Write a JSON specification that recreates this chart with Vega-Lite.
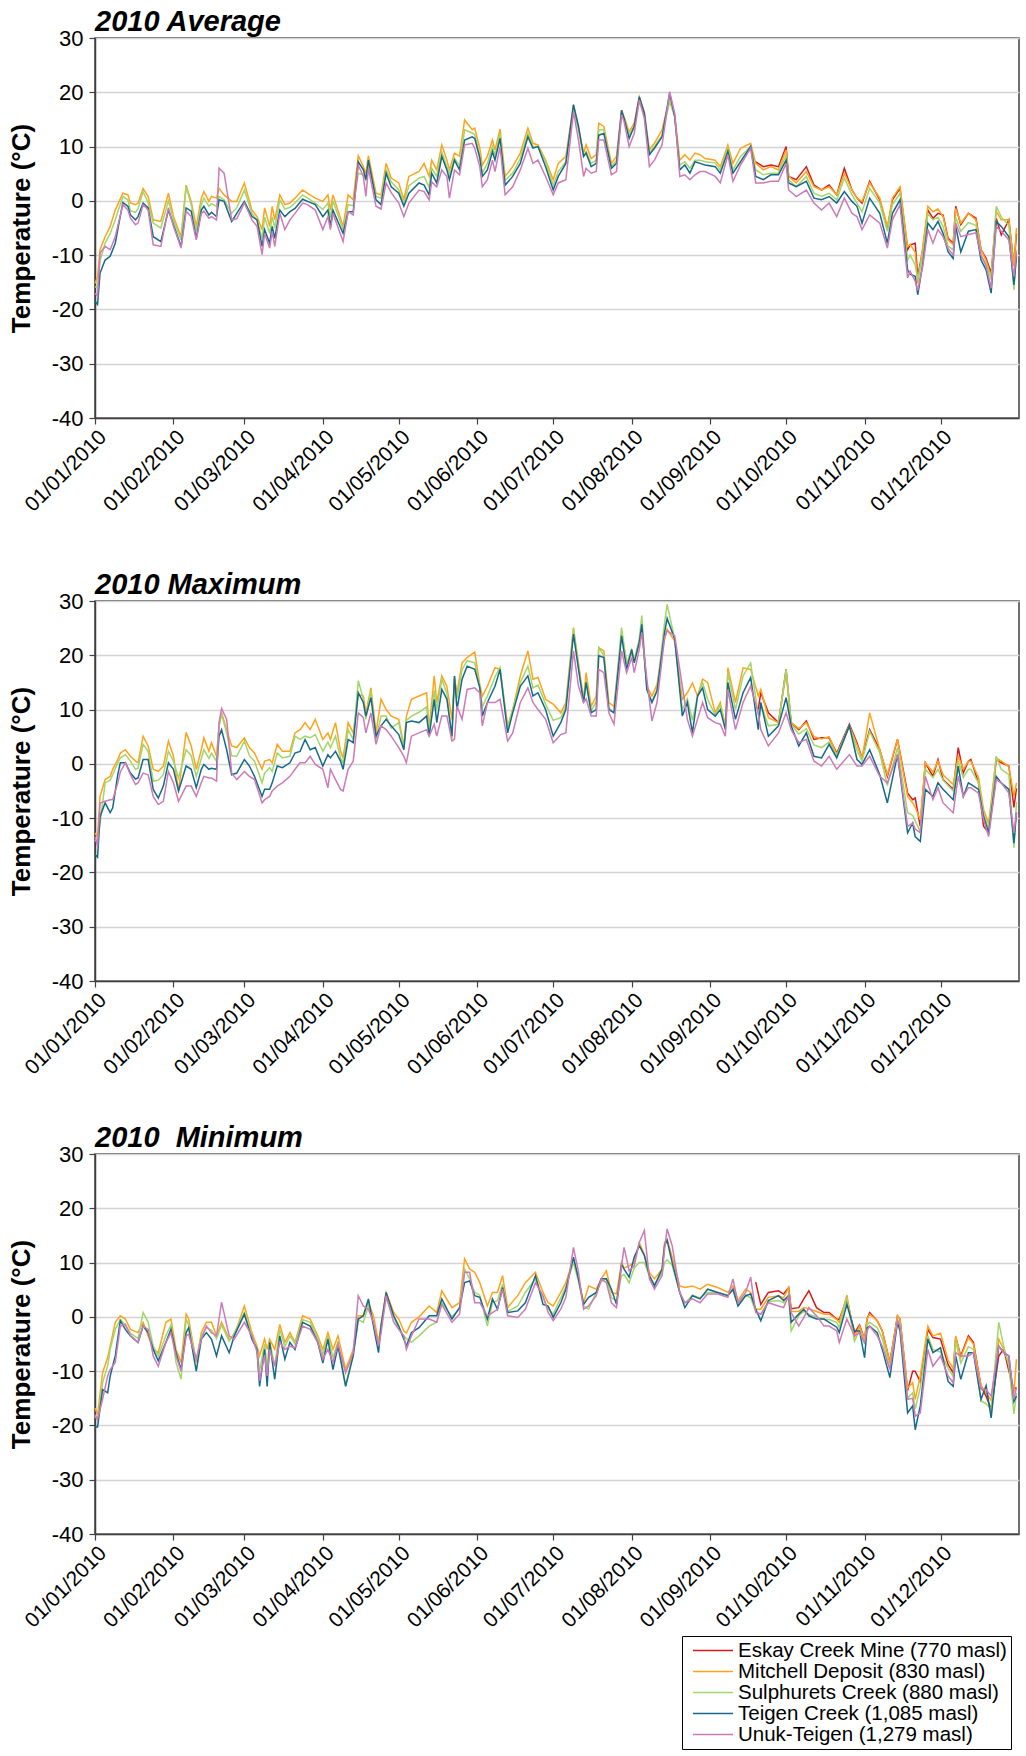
{
"$schema": "https://vega.github.io/schema/vega-lite/v6.json",
"padding": {"left": 7, "top": 7, "right": 4, "bottom": 0},
"background": "white",
"config": {
  "font": "Liberation Sans",
  "view": {"stroke": "#404040", "strokeWidth": 1.5},
  "axis": {"labelColor": "black", "labelFontSize": 22, "labelFont": "Liberation Sans", "domainColor": "#404040", "domainWidth": 1.5, "tickColor": "#404040", "tickWidth": 1.2, "tickSize": 6, "titleColor": "black", "titleFont": "Liberation Sans"},
  "axisY": {"gridColor": "#d4d4d4", "gridWidth": 1.3, "titleFontSize": 26, "titleFontWeight": "bold", "titlePadding": 17, "labelPadding": 6, "labelExpr": "'' + datum.value"},
  "axisX": {"grid": false, "labelAngle": -45, "labelPadding": 2, "labelFontSize": 21, "labelOverlap": false, "labelExpr": "utcFormat(datum.value, '%d/%m/%Y')"},
  "title": {"anchor": "start", "frame": "group", "fontSize": 29, "fontWeight": "bold", "fontStyle": "italic", "color": "black", "offset": -10, "font": "Liberation Sans"},
  "legend": {"orient": "none", "legendX": 587, "legendY": 1598, "title": null, "symbolType": "M-2,0H2", "symbolSize": 400, "symbolStrokeWidth": 1.5, "labelFontSize": 20.5, "labelColor": "black", "labelFont": "Liberation Sans", "labelLimit": 400, "strokeColor": "black", "fillColor": "white", "padding": 4, "rowPadding": 0, "clipHeight": 21, "symbolOffset": 16, "labelOffset": 14}
},
"datasets": {
  "st": [
    {"k": "E", "name": "Eskay Creek Mine (770 masl)"},
    {"k": "M", "name": "Mitchell Deposit (830 masl)"},
    {"k": "S", "name": "Sulphurets Creek (880 masl)"},
    {"k": "T", "name": "Teigen Creek (1,085 masl)"},
    {"k": "U", "name": "Unuk-Teigen (1,279 masl)"}
  ],
  "avg": [
    {"d":"2010-01-01","M":-15.2,"S":-15.8,"T":-18.5,"U":-17.0},
    {"d":"2010-01-02","M":-14.0,"S":-16.0,"T":-19.1,"U":-17.5},
    {"d":"2010-01-03","M":-9.0,"S":-11.0,"T":-13.3,"U":-9.6},
    {"d":"2010-01-05","M":-6.6,"S":-7.8,"T":-10.9,"U":-8.4},
    {"d":"2010-01-07","M":-4.7,"S":-6.0,"T":-10.2,"U":-9.0},
    {"d":"2010-01-09","M":-1.7,"S":-3.5,"T":-7.8,"U":-6.6},
    {"d":"2010-01-12","M":1.4,"S":0.8,"T":-0.3,"U":-0.7},
    {"d":"2010-01-14","M":1.1,"S":0.2,"T":-1.0,"U":-1.7},
    {"d":"2010-01-15","M":-0.4,"S":-1.8,"T":-2.6,"U":-3.2},
    {"d":"2010-01-17","M":-0.7,"S":-2.1,"T":-3.5,"U":-4.4},
    {"d":"2010-01-18","M":-0.4,"S":-1.5,"T":-2.9,"U":-4.1},
    {"d":"2010-01-20","M":2.3,"S":1.7,"T":-0.4,"U":-0.7},
    {"d":"2010-01-22","M":0.8,"S":-0.4,"T":-1.3,"U":-1.7},
    {"d":"2010-01-24","M":-3.5,"S":-4.1,"T":-6.6,"U":-8.1},
    {"d":"2010-01-27","M":-3.8,"S":-5.0,"T":-7.5,"U":-8.4},
    {"d":"2010-01-30","M":1.4,"S":0.0,"T":-1.7,"U":-1.3},
    {"d":"2010-02-01","M":-2.9,"S":-3.5,"T":-4.4,"U":-4.7},
    {"d":"2010-02-04","M":-6.6,"S":-7.2,"T":-8.4,"U":-8.7},
    {"d":"2010-02-06","M":2.9,"S":2.6,"T":-1.3,"U":-1.9},
    {"d":"2010-02-08","M":-0.1,"S":-0.7,"T":-1.9,"U":-2.9},
    {"d":"2010-02-10","M":-4.7,"S":-5.6,"T":-6.9,"U":-7.2},
    {"d":"2010-02-12","M":0.5,"S":-0.7,"T":-1.7,"U":-2.3},
    {"d":"2010-02-13","M":1.7,"S":0.5,"T":-1.0,"U":-1.9},
    {"d":"2010-02-15","M":-0.1,"S":-1.0,"T":-2.6,"U":-3.2},
    {"d":"2010-02-16","M":0.8,"S":-0.5,"T":-2.1,"U":-2.9},
    {"d":"2010-02-18","M":0.5,"S":-1.0,"T":-2.9,"U":-3.5},
    {"d":"2010-02-19","M":2.3,"S":0.8,"T":0.2,"U":6.0},
    {"d":"2010-02-21","M":1.1,"S":0.2,"T":-0.1,"U":5.1},
    {"d":"2010-02-24","M":-0.1,"S":-2.3,"T":-3.8,"U":-3.5},
    {"d":"2010-02-26","M":-0.1,"S":-1.3,"T":-2.3,"U":-3.3},
    {"d":"2010-03-01","M":3.3,"S":2.0,"T":-0.1,"U":-0.4},
    {"d":"2010-03-04","M":-1.7,"S":-2.3,"T":-2.9,"U":-3.5},
    {"d":"2010-03-06","M":-2.9,"S":-3.5,"T":-3.5,"U":-4.7},
    {"d":"2010-03-08","M":-5.3,"S":-6.9,"T":-8.4,"U":-9.9},
    {"d":"2010-03-09","M":-1.3,"S":-3.0,"T":-5.3,"U":-6.0},
    {"d":"2010-03-11","M":-4.7,"S":-6.0,"T":-7.8,"U":-8.7},
    {"d":"2010-03-12","M":-1.0,"S":-2.9,"T":-4.7,"U":-5.6},
    {"d":"2010-03-13","M":-3.5,"S":-5.0,"T":-6.9,"U":-8.4},
    {"d":"2010-03-15","M":1.1,"S":0.2,"T":-1.7,"U":-2.3},
    {"d":"2010-03-17","M":-0.7,"S":-1.5,"T":-2.9,"U":-5.3},
    {"d":"2010-03-19","M":-0.4,"S":-1.2,"T":-2.0,"U":-3.5},
    {"d":"2010-03-21","M":0.5,"S":-0.4,"T":-1.4,"U":-2.3},
    {"d":"2010-03-24","M":2.0,"S":1.1,"T":0.3,"U":-0.4},
    {"d":"2010-03-26","M":1.4,"S":0.5,"T":-0.1,"U":-0.7},
    {"d":"2010-03-29","M":0.5,"S":-0.4,"T":-0.7,"U":-1.7},
    {"d":"2010-04-01","M":-0.1,"S":-1.6,"T":-2.9,"U":-5.3},
    {"d":"2010-04-03","M":1.1,"S":-0.4,"T":-1.7,"U":-2.9},
    {"d":"2010-04-04","M":-1.7,"S":-3.2,"T":-4.7,"U":-5.3},
    {"d":"2010-04-05","M":1.1,"S":0.0,"T":-1.7,"U":-2.3},
    {"d":"2010-04-09","M":-4.7,"S":-5.3,"T":-6.0,"U":-7.5},
    {"d":"2010-04-11","M":1.1,"S":-0.7,"T":-2.0,"U":-2.0},
    {"d":"2010-04-13","M":0.2,"S":-0.9,"T":-2.0,"U":-2.6},
    {"d":"2010-04-15","M":8.3,"S":5.1,"T":7.2,"U":6.6},
    {"d":"2010-04-17","M":6.3,"S":4.8,"T":5.7,"U":4.5},
    {"d":"2010-04-18","M":5.0,"S":3.8,"T":3.9,"U":0.8},
    {"d":"2010-04-19","M":8.3,"S":6.9,"T":7.5,"U":6.0},
    {"d":"2010-04-22","M":1.4,"S":0.8,"T":0.2,"U":-1.0},
    {"d":"2010-04-24","M":1.1,"S":0.5,"T":-0.7,"U":-1.5},
    {"d":"2010-04-26","M":6.9,"S":5.7,"T":5.1,"U":3.3},
    {"d":"2010-04-28","M":4.2,"S":3.5,"T":2.6,"U":1.5},
    {"d":"2010-05-01","M":3.3,"S":2.0,"T":1.4,"U":-0.4},
    {"d":"2010-05-03","M":0.2,"S":-0.5,"T":-1.0,"U":-2.9},
    {"d":"2010-05-05","M":4.5,"S":2.8,"T":1.4,"U":-0.4},
    {"d":"2010-05-09","M":5.4,"S":4.2,"T":3.3,"U":2.0},
    {"d":"2010-05-11","M":6.9,"S":4.5,"T":2.9,"U":1.7},
    {"d":"2010-05-13","M":4.5,"S":2.5,"T":1.1,"U":0.2},
    {"d":"2010-05-14","M":7.5,"S":6.0,"T":5.1,"U":3.5},
    {"d":"2010-05-16","M":5.7,"S":4.5,"T":3.3,"U":2.6},
    {"d":"2010-05-18","M":10.3,"S":9.0,"T":8.2,"U":5.7},
    {"d":"2010-05-20","M":7.5,"S":6.3,"T":5.7,"U":4.5},
    {"d":"2010-05-21","M":5.7,"S":4.8,"T":3.9,"U":0.5},
    {"d":"2010-05-23","M":8.8,"S":7.8,"T":7.5,"U":5.7},
    {"d":"2010-05-25","M":8.2,"S":6.5,"T":5.7,"U":4.8},
    {"d":"2010-05-27","M":14.9,"S":13.1,"T":11.2,"U":10.3},
    {"d":"2010-05-30","M":13.1,"S":12.5,"T":11.8,"U":10.6},
    {"d":"2010-05-31","M":13.4,"S":12.2,"T":11.5,"U":9.7},
    {"d":"2010-06-02","M":9.7,"S":8.5,"T":7.9,"U":6.3},
    {"d":"2010-06-03","M":6.6,"S":5.1,"T":4.5,"U":2.6},
    {"d":"2010-06-05","M":8.2,"S":6.9,"T":5.7,"U":3.9},
    {"d":"2010-06-07","M":11.2,"S":10.0,"T":9.1,"U":7.5},
    {"d":"2010-06-08","M":9.4,"S":8.4,"T":7.5,"U":5.4},
    {"d":"2010-06-10","M":13.2,"S":12.4,"T":11.5,"U":10.0},
    {"d":"2010-06-12","M":4.5,"S":3.8,"T":2.9,"U":1.1},
    {"d":"2010-06-15","M":6.3,"S":5.1,"T":4.5,"U":2.6},
    {"d":"2010-06-18","M":8.8,"S":7.8,"T":6.9,"U":5.7},
    {"d":"2010-06-21","M":13.4,"S":12.4,"T":11.8,"U":9.7},
    {"d":"2010-06-23","M":10.6,"S":10.0,"T":9.7,"U":6.9},
    {"d":"2010-06-25","M":10.3,"S":10.0,"T":10.0,"U":7.5},
    {"d":"2010-06-28","M":7.5,"S":7.2,"T":6.3,"U":4.5},
    {"d":"2010-07-01","M":3.9,"S":2.9,"T":2.0,"U":1.1},
    {"d":"2010-07-03","M":6.9,"S":5.4,"T":4.5,"U":3.3},
    {"d":"2010-07-06","M":8.2,"S":7.2,"T":6.9,"U":3.9},
    {"d":"2010-07-09","M":17.7,"S":17.1,"T":17.7,"U":16.4},
    {"d":"2010-07-11","M":13.4,"S":13.1,"T":13.7,"U":11.2},
    {"d":"2010-07-13","M":8.8,"S":8.2,"T":8.2,"U":4.5},
    {"d":"2010-07-14","M":10.3,"S":9.1,"T":8.8,"U":6.0},
    {"d":"2010-07-16","M":7.8,"S":6.9,"T":6.3,"U":5.1},
    {"d":"2010-07-18","M":8.5,"S":7.5,"T":6.9,"U":5.4},
    {"d":"2010-07-19","M":14.3,"S":13.1,"T":12.1,"U":11.2},
    {"d":"2010-07-21","M":13.7,"S":13.1,"T":12.4,"U":11.2},
    {"d":"2010-07-24","M":6.9,"S":6.3,"T":6.0,"U":4.8},
    {"d":"2010-07-26","M":8.2,"S":7.5,"T":6.9,"U":5.4},
    {"d":"2010-07-28","M":16.7,"S":16.1,"T":16.7,"U":15.8},
    {"d":"2010-07-29","M":15.5,"S":15.2,"T":15.2,"U":14.6},
    {"d":"2010-07-31","M":12.7,"S":12.1,"T":11.5,"U":10.0},
    {"d":"2010-08-02","M":14.3,"S":13.7,"T":13.7,"U":12.4},
    {"d":"2010-08-04","M":19.2,"S":18.3,"T":19.2,"U":18.6},
    {"d":"2010-08-06","M":16.4,"S":15.8,"T":16.1,"U":15.2},
    {"d":"2010-08-08","M":9.4,"S":8.8,"T":8.5,"U":6.3},
    {"d":"2010-08-10","M":10.6,"S":10.0,"T":9.7,"U":7.5},
    {"d":"2010-08-13","M":13.1,"S":12.1,"T":11.8,"U":10.3},
    {"d":"2010-08-16","M":18.9,"S":18.3,"T":19.9,"U":20.1},
    {"d":"2010-08-18","M":15.8,"S":15.5,"T":15.5,"U":16.1},
    {"d":"2010-08-20","M":7.5,"S":6.6,"T":5.7,"U":4.5},
    {"d":"2010-08-22","M":8.5,"S":7.2,"T":6.6,"U":4.8},
    {"d":"2010-08-24","M":7.5,"S":6.0,"T":5.1,"U":3.9},
    {"d":"2010-08-26","M":8.8,"S":7.5,"T":7.2,"U":4.8},
    {"d":"2010-08-28","M":8.5,"S":7.5,"T":6.9,"U":5.4},
    {"d":"2010-08-30","M":7.8,"S":7.2,"T":6.6,"U":5.4},
    {"d":"2010-09-03","M":7.5,"S":7.0,"T":6.3,"U":4.5},
    {"d":"2010-09-05","M":6.3,"S":5.7,"T":5.1,"U":3.3},
    {"d":"2010-09-08","M":10.3,"S":9.7,"T":9.1,"U":8.5},
    {"d":"2010-09-10","M":6.9,"S":5.7,"T":5.1,"U":3.6},
    {"d":"2010-09-13","M":9.7,"S":8.2,"T":7.2,"U":6.6},
    {"d":"2010-09-17","M":10.6,"S":10.0,"T":10.0,"U":9.7},
    {"d":"2010-09-19","M":6.9,"S":5.7,"T":4.5,"U":3.3,"E":7.2},
    {"d":"2010-09-22","M":5.7,"S":4.8,"T":3.9,"U":3.3,"E":6.3},
    {"d":"2010-09-25","M":6.3,"S":5.1,"T":4.8,"U":3.6,"E":6.6},
    {"d":"2010-09-28","M":5.7,"S":5.1,"T":4.8,"U":3.6,"E":6.3},
    {"d":"2010-10-01","M":9.4,"S":8.5,"T":7.5,"U":6.9,"E":10.0},
    {"d":"2010-10-02","M":4.5,"S":3.9,"T":3.3,"U":2.0,"E":4.5},
    {"d":"2010-10-05","M":3.3,"S":2.6,"T":2.6,"U":0.8,"E":3.9},
    {"d":"2010-10-09","M":5.4,"S":4.5,"T":3.6,"U":2.0,"E":6.3},
    {"d":"2010-10-12","M":2.6,"S":1.4,"T":0.5,"U":-0.4,"E":2.9},
    {"d":"2010-10-15","M":2.0,"S":0.8,"T":0.2,"U":-1.7,"E":2.0},
    {"d":"2010-10-18","M":2.6,"S":1.4,"T":0.8,"U":-0.4,"E":2.9},
    {"d":"2010-10-21","M":1.1,"S":0.2,"T":-0.4,"U":-2.9,"E":1.1},
    {"d":"2010-10-24","M":5.1,"S":4.2,"T":1.7,"U":0.5,"E":6.0},
    {"d":"2010-10-27","M":2.0,"S":1.1,"T":-0.1,"U":-2.3,"E":2.0},
    {"d":"2010-10-29","M":0.5,"S":-0.4,"T":-1.0,"U":-2.9,"E":0.5},
    {"d":"2010-10-31","M":-0.1,"S":-2.0,"T":-4.1,"U":-5.3,"E":-0.4},
    {"d":"2010-11-03","M":3.3,"S":2.3,"T":0.5,"U":-2.6,"E":3.6},
    {"d":"2010-11-07","M":0.5,"S":-0.4,"T":-2.3,"U":-4.1,"E":0.2},
    {"d":"2010-11-10","M":-4.7,"S":-5.6,"T":-7.8,"U":-8.7,"E":-5.3},
    {"d":"2010-11-12","M":0.5,"S":-0.7,"T":-2.3,"U":-3.5,"E":0.2},
    {"d":"2010-11-15","M":2.6,"S":1.4,"T":0.2,"U":-0.7,"E":2.3},
    {"d":"2010-11-18","M":-8.4,"S":-10.9,"T":-12.7,"U":-14.2,"E":-9.0},
    {"d":"2010-11-19","M":-8.0,"S":-10.0,"T":-13.5,"U":-13.0,"E":-8.1},
    {"d":"2010-11-21","M":-9.5,"S":-11.8,"T":-13.9,"U":-14.8,"E":-7.8},
    {"d":"2010-11-22","M":-15.2,"S":-14.5,"T":-17.3,"U":-16.5,"E":-14.0},
    {"d":"2010-11-24","M":-8.4,"S":-10.0,"T":-11.5,"U":-12.0,"E":-9.0},
    {"d":"2010-11-26","M":-1.0,"S":-2.3,"T":-4.1,"U":-5.3,"E":-1.7},
    {"d":"2010-11-28","M":-2.0,"S":-3.5,"T":-5.3,"U":-7.8,"E":-3.2},
    {"d":"2010-11-30","M":-1.5,"S":-3.0,"T":-3.8,"U":-5.3,"E":-2.3},
    {"d":"2010-12-02","M":-2.9,"S":-4.7,"T":-6.0,"U":-6.6,"E":-2.6},
    {"d":"2010-12-04","M":-7.2,"S":-8.4,"T":-9.4,"U":-8.8,"E":-6.9},
    {"d":"2010-12-06","M":-8.1,"S":-9.0,"T":-10.6,"U":-10.0,"E":-7.8},
    {"d":"2010-12-07","M":-1.4,"S":-3.0,"T":-4.7,"U":-4.1,"E":-1.0},
    {"d":"2010-12-09","M":-4.1,"S":-5.6,"T":-9.4,"U":-6.6,"E":-4.4},
    {"d":"2010-12-12","M":-2.3,"S":-4.0,"T":-5.6,"U":-6.2,"E":-2.3},
    {"d":"2010-12-15","M":-3.5,"S":-4.5,"T":-5.3,"U":-5.9,"E":-3.2},
    {"d":"2010-12-17","M":-9.0,"S":-10.2,"T":-10.9,"U":-10.0,"E":-9.0},
    {"d":"2010-12-19","M":-11.0,"S":-11.5,"T":-12.7,"U":-12.0,"E":-10.6},
    {"d":"2010-12-21","M":-14.0,"S":-14.5,"T":-17.0,"U":-16.1,"E":-13.3},
    {"d":"2010-12-23","M":-1.9,"S":-1.0,"T":-3.8,"U":-4.7,"E":-3.2},
    {"d":"2010-12-25","M":-3.5,"S":-3.0,"T":-4.7,"U":-5.6,"E":-6.3},
    {"d":"2010-12-28","M":-3.5,"S":-4.5,"T":-6.6,"U":-7.2,"E":-3.5},
    {"d":"2010-12-30","M":-12.0,"S":-16.4,"T":-15.5,"U":-13.9,"E":-12.0},
    {"d":"2010-12-31","M":-5.0,"S":-9.0,"T":-10.2,"U":-9.5,"E":-6.0}
  ],
  "max": [
    {"d":"2010-01-01","M":-12.7,"S":-14.0,"T":-16.7,"U":-13.4},
    {"d":"2010-01-02","M":-13.5,"S":-14.5,"T":-17.2,"U":-15.2},
    {"d":"2010-01-03","M":-6.0,"S":-10.9,"T":-9.7,"U":-7.2},
    {"d":"2010-01-05","M":-2.9,"S":-3.5,"T":-7.2,"U":-6.9},
    {"d":"2010-01-07","M":-2.3,"S":-3.0,"T":-9.0,"U":-6.6},
    {"d":"2010-01-08","M":-1.0,"S":-2.0,"T":-8.1,"U":-6.6},
    {"d":"2010-01-10","M":0.8,"S":0.2,"T":-2.0,"U":-3.5},
    {"d":"2010-01-11","M":2.0,"S":1.1,"T":0.2,"U":-1.5},
    {"d":"2010-01-13","M":2.6,"S":1.7,"T":0.2,"U":0.2},
    {"d":"2010-01-15","M":1.4,"S":0.5,"T":-1.7,"U":-2.0},
    {"d":"2010-01-17","M":0.5,"S":-1.0,"T":-2.8,"U":-3.8},
    {"d":"2010-01-18","M":0.2,"S":-0.8,"T":-2.6,"U":-3.5},
    {"d":"2010-01-20","M":5.1,"S":3.6,"T":0.8,"U":-1.7},
    {"d":"2010-01-22","M":3.3,"S":2.3,"T":0.8,"U":-2.0},
    {"d":"2010-01-24","M":-1.0,"S":-3.2,"T":-4.7,"U":-6.0},
    {"d":"2010-01-26","M":-1.4,"S":-3.0,"T":-6.3,"U":-7.5},
    {"d":"2010-01-28","M":-0.4,"S":-2.0,"T":-4.1,"U":-6.9},
    {"d":"2010-01-30","M":4.2,"S":2.3,"T":0.2,"U":-1.4},
    {"d":"2010-02-01","M":1.4,"S":0.5,"T":-1.0,"U":-3.5},
    {"d":"2010-02-03","M":-5.0,"S":-2.6,"T":-5.0,"U":-6.9},
    {"d":"2010-02-06","M":5.8,"S":2.6,"T":-0.4,"U":-4.1},
    {"d":"2010-02-08","M":3.3,"S":1.5,"T":-1.0,"U":-4.1},
    {"d":"2010-02-10","M":-1.0,"S":-2.3,"T":-4.4,"U":-6.0},
    {"d":"2010-02-12","M":2.6,"S":1.0,"T":-1.0,"U":-3.5},
    {"d":"2010-02-13","M":4.8,"S":2.6,"T":-0.1,"U":-2.3},
    {"d":"2010-02-15","M":2.3,"S":1.0,"T":-1.0,"U":-2.6},
    {"d":"2010-02-16","M":3.9,"S":2.0,"T":-0.8,"U":-2.6},
    {"d":"2010-02-18","M":1.4,"S":0.5,"T":-1.0,"U":-3.2},
    {"d":"2010-02-19","M":7.0,"S":7.0,"T":5.1,"U":7.6},
    {"d":"2010-02-20","M":9.4,"S":9.1,"T":6.3,"U":10.2},
    {"d":"2010-02-22","M":6.3,"S":5.7,"T":2.6,"U":8.2},
    {"d":"2010-02-24","M":3.3,"S":1.5,"T":-2.0,"U":-1.7},
    {"d":"2010-02-26","M":3.0,"S":1.4,"T":-1.7,"U":-2.9},
    {"d":"2010-03-01","M":4.8,"S":4.2,"T":0.8,"U":-1.4},
    {"d":"2010-03-03","M":3.0,"S":1.5,"T":-0.4,"U":-2.3},
    {"d":"2010-03-05","M":2.0,"S":0.5,"T":-2.3,"U":-2.9},
    {"d":"2010-03-08","M":-1.0,"S":-3.5,"T":-6.0,"U":-7.2},
    {"d":"2010-03-09","M":0.5,"S":-1.7,"T":-4.7,"U":-6.6},
    {"d":"2010-03-11","M":0.8,"S":-0.7,"T":-4.7,"U":-6.0},
    {"d":"2010-03-12","M":0.2,"S":-1.4,"T":-3.5,"U":-5.0},
    {"d":"2010-03-14","M":3.6,"S":2.0,"T":-0.4,"U":-4.1},
    {"d":"2010-03-16","M":2.3,"S":1.1,"T":-0.7,"U":-3.5},
    {"d":"2010-03-19","M":2.3,"S":1.4,"T":0.2,"U":-2.3},
    {"d":"2010-03-21","M":5.7,"S":5.1,"T":2.0,"U":-1.0},
    {"d":"2010-03-23","M":6.3,"S":4.5,"T":2.3,"U":0.2},
    {"d":"2010-03-25","M":7.6,"S":5.1,"T":4.5,"U":0.2},
    {"d":"2010-03-27","M":6.3,"S":4.8,"T":2.6,"U":1.4},
    {"d":"2010-03-29","M":8.2,"S":5.4,"T":3.0,"U":-0.1},
    {"d":"2010-04-01","M":4.5,"S":2.3,"T":-0.4,"U":-1.0},
    {"d":"2010-04-03","M":5.7,"S":4.0,"T":1.7,"U":-4.4},
    {"d":"2010-04-04","M":4.5,"S":3.0,"T":1.1,"U":-1.0},
    {"d":"2010-04-06","M":7.6,"S":5.1,"T":2.3,"U":-2.9},
    {"d":"2010-04-08","M":2.3,"S":1.0,"T":0.5,"U":-4.7},
    {"d":"2010-04-09","M":1.1,"S":0.2,"T":-1.0,"U":-5.0},
    {"d":"2010-04-11","M":7.6,"S":6.3,"T":4.5,"U":-1.0},
    {"d":"2010-04-13","M":5.7,"S":4.5,"T":3.9,"U":0.5},
    {"d":"2010-04-15","M":12.8,"S":15.3,"T":13.1,"U":9.4},
    {"d":"2010-04-17","M":12.5,"S":11.9,"T":11.3,"U":8.5},
    {"d":"2010-04-18","M":9.4,"S":8.2,"T":8.8,"U":5.7},
    {"d":"2010-04-20","M":14.0,"S":13.4,"T":12.2,"U":9.4},
    {"d":"2010-04-22","M":5.7,"S":4.5,"T":5.1,"U":3.6},
    {"d":"2010-04-24","M":11.9,"S":8.8,"T":7.0,"U":7.0},
    {"d":"2010-04-26","M":10.0,"S":8.8,"T":8.2,"U":6.3},
    {"d":"2010-04-28","M":8.8,"S":6.6,"T":7.0,"U":5.1},
    {"d":"2010-05-01","M":8.2,"S":7.6,"T":5.4,"U":3.0},
    {"d":"2010-05-03","M":3.3,"S":3.0,"T":2.6,"U":1.4},
    {"d":"2010-05-04","M":8.8,"S":8.0,"T":7.6,"U":0.2},
    {"d":"2010-05-06","M":11.9,"S":8.8,"T":7.9,"U":5.1},
    {"d":"2010-05-09","M":12.5,"S":9.5,"T":7.6,"U":5.7},
    {"d":"2010-05-12","M":13.1,"S":10.5,"T":8.8,"U":6.3},
    {"d":"2010-05-13","M":6.5,"S":6.0,"T":5.1,"U":5.1},
    {"d":"2010-05-15","M":16.2,"S":13.5,"T":11.9,"U":7.3},
    {"d":"2010-05-16","M":11.3,"S":10.0,"T":7.6,"U":5.1},
    {"d":"2010-05-18","M":16.2,"S":15.6,"T":13.7,"U":8.8},
    {"d":"2010-05-20","M":14.3,"S":13.0,"T":11.9,"U":8.8},
    {"d":"2010-05-22","M":8.2,"S":4.5,"T":5.1,"U":4.2},
    {"d":"2010-05-23","M":15.6,"S":16.2,"T":16.2,"U":4.5},
    {"d":"2010-05-24","M":13.1,"S":12.0,"T":10.0,"U":10.6},
    {"d":"2010-05-26","M":18.6,"S":17.4,"T":15.6,"U":8.2},
    {"d":"2010-05-28","M":19.6,"S":19.0,"T":18.0,"U":13.7},
    {"d":"2010-05-31","M":20.6,"S":18.6,"T":17.4,"U":14.0},
    {"d":"2010-06-02","M":14.6,"S":14.3,"T":14.0,"U":13.1},
    {"d":"2010-06-03","M":12.5,"S":10.5,"T":8.8,"U":7.0},
    {"d":"2010-06-05","M":14.3,"S":12.5,"T":11.3,"U":11.3},
    {"d":"2010-06-08","M":17.7,"S":16.0,"T":14.3,"U":11.3},
    {"d":"2010-06-10","M":17.4,"S":17.8,"T":17.4,"U":11.9},
    {"d":"2010-06-13","M":7.0,"S":6.5,"T":5.7,"U":4.2},
    {"d":"2010-06-15","M":10.0,"S":10.0,"T":9.4,"U":5.7},
    {"d":"2010-06-18","M":16.2,"S":15.0,"T":14.3,"U":11.3},
    {"d":"2010-06-21","M":20.8,"S":18.0,"T":16.2,"U":14.0},
    {"d":"2010-06-23","M":15.6,"S":14.0,"T":12.5,"U":11.3},
    {"d":"2010-06-25","M":15.9,"S":14.5,"T":13.1,"U":10.0},
    {"d":"2010-06-28","M":11.9,"S":11.0,"T":10.0,"U":8.2},
    {"d":"2010-07-01","M":11.0,"S":8.0,"T":5.1,"U":3.9},
    {"d":"2010-07-04","M":9.4,"S":8.5,"T":7.6,"U":5.4},
    {"d":"2010-07-06","M":11.3,"S":10.6,"T":10.0,"U":5.7},
    {"d":"2010-07-09","M":25.1,"S":24.8,"T":23.9,"U":20.8},
    {"d":"2010-07-11","M":18.5,"S":18.0,"T":17.4,"U":14.3},
    {"d":"2010-07-13","M":11.9,"S":11.3,"T":11.3,"U":11.3},
    {"d":"2010-07-14","M":16.8,"S":15.5,"T":15.0,"U":12.0},
    {"d":"2010-07-16","M":10.6,"S":9.7,"T":9.4,"U":8.8},
    {"d":"2010-07-18","M":12.5,"S":11.5,"T":10.0,"U":8.8},
    {"d":"2010-07-19","M":21.4,"S":21.4,"T":19.9,"U":17.4},
    {"d":"2010-07-21","M":20.8,"S":20.0,"T":19.6,"U":16.8},
    {"d":"2010-07-23","M":11.3,"S":10.3,"T":10.0,"U":9.4},
    {"d":"2010-07-25","M":10.6,"S":9.4,"T":9.4,"U":7.3},
    {"d":"2010-07-28","M":24.2,"S":25.1,"T":23.6,"U":20.8},
    {"d":"2010-07-30","M":18.6,"S":18.5,"T":17.4,"U":16.8},
    {"d":"2010-08-01","M":20.2,"S":21.0,"T":21.1,"U":19.6},
    {"d":"2010-08-02","M":19.0,"S":19.0,"T":18.6,"U":16.8},
    {"d":"2010-08-04","M":22.6,"S":23.0,"T":22.3,"U":21.1},
    {"d":"2010-08-05","M":24.8,"S":27.3,"T":25.7,"U":24.2},
    {"d":"2010-08-07","M":14.3,"S":13.7,"T":13.7,"U":15.6},
    {"d":"2010-08-09","M":12.5,"S":11.5,"T":11.3,"U":7.9},
    {"d":"2010-08-11","M":14.6,"S":13.7,"T":13.4,"U":11.3},
    {"d":"2010-08-14","M":23.0,"S":26.0,"T":24.2,"U":23.3},
    {"d":"2010-08-15","M":24.8,"S":29.4,"T":26.8,"U":24.5},
    {"d":"2010-08-18","M":22.6,"S":23.0,"T":23.0,"U":23.6},
    {"d":"2010-08-21","M":11.9,"S":10.0,"T":8.8,"U":14.3},
    {"d":"2010-08-23","M":13.1,"S":12.0,"T":11.3,"U":8.2},
    {"d":"2010-08-25","M":14.9,"S":8.0,"T":5.7,"U":5.1},
    {"d":"2010-08-27","M":12.5,"S":12.3,"T":12.5,"U":8.2},
    {"d":"2010-08-29","M":15.6,"S":15.0,"T":14.0,"U":11.3},
    {"d":"2010-08-31","M":15.0,"S":11.9,"T":10.0,"U":8.5},
    {"d":"2010-09-03","M":9.4,"S":9.0,"T":8.8,"U":7.6},
    {"d":"2010-09-05","M":11.3,"S":10.8,"T":10.0,"U":7.3},
    {"d":"2010-09-07","M":7.0,"S":6.6,"T":6.3,"U":5.1},
    {"d":"2010-09-08","M":17.7,"S":16.8,"T":15.0,"U":13.7},
    {"d":"2010-09-11","M":11.3,"S":10.0,"T":8.2,"U":6.3},
    {"d":"2010-09-14","M":17.7,"S":16.2,"T":13.1,"U":11.3},
    {"d":"2010-09-17","M":17.4,"S":18.6,"T":15.9,"U":14.3},
    {"d":"2010-09-20","M":12.5,"S":9.0,"T":6.3,"U":9.4,"E":10.0},
    {"d":"2010-09-21","M":13.7,"S":11.0,"T":11.3,"U":6.3,"E":13.1},
    {"d":"2010-09-24","M":8.5,"S":7.0,"T":5.1,"U":3.3,"E":9.4},
    {"d":"2010-09-28","M":7.6,"S":7.3,"T":7.0,"U":5.7,"E":7.6},
    {"d":"2010-10-01","M":16.8,"S":17.4,"T":12.2,"U":9.4,"E":17.4},
    {"d":"2010-10-03","M":7.6,"S":7.3,"T":7.0,"U":6.3,"E":7.6},
    {"d":"2010-10-06","M":6.5,"S":5.5,"T":3.3,"U":3.9,"E":6.3},
    {"d":"2010-10-09","M":7.6,"S":6.5,"T":5.7,"U":4.5,"E":7.9},
    {"d":"2010-10-12","M":5.0,"S":3.5,"T":1.4,"U":0.5,"E":4.5},
    {"d":"2010-10-15","M":4.6,"S":3.0,"T":1.1,"U":-0.4,"E":4.8},
    {"d":"2010-10-18","M":5.0,"S":4.0,"T":3.6,"U":1.4,"E":4.8},
    {"d":"2010-10-21","M":1.7,"S":1.5,"T":1.1,"U":-1.0,"E":2.0},
    {"d":"2010-10-26","M":7.0,"S":7.0,"T":7.0,"U":1.7,"E":7.3},
    {"d":"2010-10-29","M":3.5,"S":2.5,"T":0.8,"U":-0.4,"E":3.9},
    {"d":"2010-10-31","M":1.0,"S":0.5,"T":-0.1,"U":-0.4,"E":1.1},
    {"d":"2010-11-03","M":9.4,"S":6.0,"T":2.6,"U":1.4,"E":6.3},
    {"d":"2010-11-07","M":2.6,"S":2.0,"T":-2.0,"U":-2.3,"E":2.6},
    {"d":"2010-11-10","M":-2.0,"S":-4.0,"T":-7.2,"U":-3.5,"E":-2.3},
    {"d":"2010-11-14","M":4.5,"S":3.0,"T":1.7,"U":1.7,"E":4.5},
    {"d":"2010-11-18","M":-6.0,"S":-9.0,"T":-12.7,"U":-11.5,"E":-5.4},
    {"d":"2010-11-20","M":-7.2,"S":-9.5,"T":-10.9,"U":-10.9,"E":-6.6},
    {"d":"2010-11-21","M":-8.0,"S":-10.5,"T":-13.4,"U":-12.0,"E":-6.3},
    {"d":"2010-11-23","M":-10.3,"S":-12.5,"T":-14.3,"U":-12.7,"E":-11.5},
    {"d":"2010-11-25","M":0.2,"S":-1.0,"T":-4.7,"U":-2.3,"E":0.2},
    {"d":"2010-11-28","M":-1.5,"S":-2.5,"T":-6.0,"U":-6.6,"E":-2.3},
    {"d":"2010-11-30","M":0.5,"S":-1.0,"T":-3.5,"U":-4.4,"E":0.8},
    {"d":"2010-12-02","M":-2.0,"S":-3.0,"T":-4.7,"U":-7.2,"E":-2.9},
    {"d":"2010-12-06","M":-3.8,"S":-5.0,"T":-6.6,"U":-9.0,"E":-4.7},
    {"d":"2010-12-08","M":1.4,"S":0.5,"T":-0.4,"U":-2.3,"E":3.0},
    {"d":"2010-12-10","M":-1.0,"S":-2.5,"T":-6.0,"U":-6.0,"E":-1.7},
    {"d":"2010-12-12","M":0.5,"S":-1.0,"T":-3.5,"U":-4.4,"E":0.5},
    {"d":"2010-12-13","M":0.5,"S":-1.0,"T":-3.8,"U":-4.4,"E":0.8},
    {"d":"2010-12-16","M":-2.5,"S":-3.5,"T":-4.7,"U":-5.4,"E":-3.5},
    {"d":"2010-12-18","M":-8.4,"S":-9.0,"T":-9.7,"U":-10.3,"E":-11.5},
    {"d":"2010-12-20","M":-11.0,"S":-12.0,"T":-12.7,"U":-13.4,"E":-12.7},
    {"d":"2010-12-23","M":1.1,"S":1.4,"T":-2.3,"U":-2.9,"E":0.8},
    {"d":"2010-12-25","M":0.5,"S":-1.0,"T":-3.5,"U":-3.5,"E":0.2},
    {"d":"2010-12-28","M":-0.5,"S":-2.0,"T":-4.7,"U":-5.4,"E":-0.4},
    {"d":"2010-12-30","M":-6.0,"S":-15.5,"T":-14.6,"U":-12.7,"E":-8.0},
    {"d":"2010-12-31","M":-3.5,"S":-7.0,"T":-9.0,"U":-9.0,"E":-4.5}
  ],
  "min": [
    {"d":"2010-01-01","M":-16.8,"S":-18.3,"T":-20.3,"U":-18.0},
    {"d":"2010-01-02","M":-18.0,"S":-19.0,"T":-20.3,"U":-18.9},
    {"d":"2010-01-04","M":-10.3,"S":-12.1,"T":-13.4,"U":-15.2},
    {"d":"2010-01-06","M":-7.5,"S":-9.0,"T":-14.0,"U":-10.9},
    {"d":"2010-01-07","M":-5.4,"S":-6.0,"T":-10.9,"U":-9.7},
    {"d":"2010-01-09","M":-1.0,"S":-2.3,"T":-7.2,"U":-8.4},
    {"d":"2010-01-11","M":0.2,"S":-0.5,"T":-0.7,"U":-1.7},
    {"d":"2010-01-13","M":-0.4,"S":-1.5,"T":-2.3,"U":-1.4},
    {"d":"2010-01-15","M":-2.3,"S":-3.0,"T":-3.5,"U":-3.5},
    {"d":"2010-01-18","M":-2.9,"S":-4.0,"T":-4.7,"U":-4.7},
    {"d":"2010-01-20","M":-1.0,"S":0.8,"T":-1.7,"U":-1.7},
    {"d":"2010-01-22","M":-3.5,"S":-1.0,"T":-2.9,"U":-2.3},
    {"d":"2010-01-24","M":-6.0,"S":-5.4,"T":-6.0,"U":-7.2},
    {"d":"2010-01-26","M":-6.6,"S":-7.2,"T":-8.1,"U":-9.1},
    {"d":"2010-01-29","M":-1.0,"S":-3.5,"T":-4.7,"U":-4.7},
    {"d":"2010-01-31","M":-0.4,"S":-1.5,"T":-2.3,"U":-2.9},
    {"d":"2010-02-02","M":-6.0,"S":-8.4,"T":-6.6,"U":-7.2},
    {"d":"2010-02-04","M":-8.4,"S":-11.5,"T":-9.7,"U":-10.0},
    {"d":"2010-02-06","M":0.5,"S":-0.4,"T":-2.9,"U":-3.5},
    {"d":"2010-02-07","M":-0.4,"S":-1.5,"T":-2.0,"U":-3.2},
    {"d":"2010-02-10","M":-8.4,"S":-8.0,"T":-10.0,"U":-7.8},
    {"d":"2010-02-12","M":-2.9,"S":-3.5,"T":-4.1,"U":-4.1},
    {"d":"2010-02-14","M":-1.0,"S":-2.0,"T":-2.9,"U":-1.7},
    {"d":"2010-02-16","M":-1.0,"S":-2.5,"T":-4.1,"U":-2.9},
    {"d":"2010-02-18","M":-3.5,"S":-4.0,"T":-7.2,"U":-3.5},
    {"d":"2010-02-20","M":-1.0,"S":-1.5,"T":-3.5,"U":2.7},
    {"d":"2010-02-23","M":-4.1,"S":-4.5,"T":-6.6,"U":-3.5},
    {"d":"2010-02-25","M":-3.5,"S":-3.0,"T":-3.5,"U":-4.1},
    {"d":"2010-03-01","M":2.0,"S":0.8,"T":0.5,"U":-1.0},
    {"d":"2010-03-04","M":-2.9,"S":-3.5,"T":-4.1,"U":-3.5},
    {"d":"2010-03-06","M":-5.4,"S":-6.0,"T":-6.0,"U":-6.5},
    {"d":"2010-03-07","M":-7.2,"S":-10.0,"T":-12.8,"U":-11.8},
    {"d":"2010-03-09","M":-4.1,"S":-5.0,"T":-6.0,"U":-7.0},
    {"d":"2010-03-10","M":-6.0,"S":-9.0,"T":-12.8,"U":-10.9},
    {"d":"2010-03-11","M":-4.1,"S":-4.5,"T":-4.7,"U":-6.0},
    {"d":"2010-03-13","M":-6.0,"S":-9.0,"T":-11.5,"U":-9.1},
    {"d":"2010-03-15","M":-1.4,"S":-2.3,"T":-3.5,"U":-4.7},
    {"d":"2010-03-17","M":-4.7,"S":-5.5,"T":-7.8,"U":-6.0},
    {"d":"2010-03-19","M":-2.9,"S":-3.5,"T":-4.7,"U":-5.4},
    {"d":"2010-03-21","M":-4.7,"S":-5.0,"T":-6.0,"U":-5.7},
    {"d":"2010-03-24","M":0.2,"S":-0.5,"T":-1.0,"U":-1.7},
    {"d":"2010-03-27","M":-0.4,"S":-1.0,"T":-1.7,"U":-2.3},
    {"d":"2010-03-30","M":-3.5,"S":-4.0,"T":-4.7,"U":-4.7},
    {"d":"2010-04-01","M":-6.0,"S":-7.0,"T":-8.5,"U":-7.8},
    {"d":"2010-04-03","M":-2.9,"S":-3.5,"T":-4.1,"U":-6.0},
    {"d":"2010-04-05","M":-6.0,"S":-7.5,"T":-9.7,"U":-8.4},
    {"d":"2010-04-07","M":-3.5,"S":-4.5,"T":-5.4,"U":-5.0},
    {"d":"2010-04-10","M":-9.7,"S":-12.7,"T":-12.8,"U":-10.3},
    {"d":"2010-04-13","M":-6.0,"S":-6.6,"T":-7.2,"U":-6.6},
    {"d":"2010-04-15","M":0.2,"S":-0.5,"T":-0.4,"U":3.9},
    {"d":"2010-04-17","M":0.2,"S":-1.0,"T":0.2,"U":2.0},
    {"d":"2010-04-19","M":2.6,"S":2.0,"T":3.3,"U":1.4},
    {"d":"2010-04-21","M":0.2,"S":-1.0,"T":-1.7,"U":-1.0},
    {"d":"2010-04-23","M":-4.7,"S":-5.5,"T":-6.6,"U":-5.4},
    {"d":"2010-04-24","M":-1.4,"S":-2.0,"T":-1.7,"U":-3.0},
    {"d":"2010-04-26","M":4.5,"S":3.5,"T":4.5,"U":3.9},
    {"d":"2010-04-29","M":0.8,"S":0.0,"T":0.2,"U":-1.0},
    {"d":"2010-05-01","M":-0.4,"S":-2.3,"T":-1.7,"U":-2.3},
    {"d":"2010-05-03","M":-2.6,"S":-3.5,"T":-4.1,"U":-3.5},
    {"d":"2010-05-04","M":-3.0,"S":-4.0,"T":-5.4,"U":-6.0},
    {"d":"2010-05-06","M":-1.0,"S":-4.7,"T":-2.9,"U":-3.5},
    {"d":"2010-05-09","M":0.0,"S":-3.5,"T":-2.0,"U":-0.4},
    {"d":"2010-05-13","M":2.0,"S":-1.7,"T":0.2,"U":-0.4},
    {"d":"2010-05-16","M":0.8,"S":-1.0,"T":0.2,"U":-1.0},
    {"d":"2010-05-18","M":4.8,"S":2.6,"T":3.3,"U":2.3},
    {"d":"2010-05-22","M":1.7,"S":0.0,"T":-0.4,"U":-1.0},
    {"d":"2010-05-25","M":2.6,"S":1.5,"T":1.7,"U":0.5},
    {"d":"2010-05-27","M":10.7,"S":8.8,"T":6.3,"U":8.2},
    {"d":"2010-05-29","M":8.8,"S":7.0,"T":6.6,"U":8.2},
    {"d":"2010-05-31","M":8.2,"S":4.5,"T":3.9,"U":2.6},
    {"d":"2010-06-02","M":6.3,"S":4.0,"T":3.6,"U":2.6},
    {"d":"2010-06-05","M":2.0,"S":-1.7,"T":-0.4,"U":0.2},
    {"d":"2010-06-07","M":4.5,"S":2.6,"T":3.3,"U":0.8},
    {"d":"2010-06-09","M":4.5,"S":3.0,"T":1.4,"U":1.4},
    {"d":"2010-06-11","M":7.6,"S":6.0,"T":5.4,"U":5.1},
    {"d":"2010-06-13","M":1.7,"S":1.0,"T":0.8,"U":0.2},
    {"d":"2010-06-17","M":3.9,"S":2.0,"T":1.1,"U":-0.1},
    {"d":"2010-06-20","M":6.3,"S":4.5,"T":2.6,"U":1.4},
    {"d":"2010-06-24","M":8.2,"S":7.0,"T":7.6,"U":6.3},
    {"d":"2010-06-27","M":4.5,"S":3.5,"T":2.3,"U":3.9},
    {"d":"2010-06-29","M":2.6,"S":1.5,"T":2.0,"U":0.8},
    {"d":"2010-07-01","M":2.0,"S":0.5,"T":-0.1,"U":-0.7},
    {"d":"2010-07-04","M":4.5,"S":3.5,"T":2.6,"U":1.4},
    {"d":"2010-07-06","M":6.3,"S":5.5,"T":5.1,"U":3.6},
    {"d":"2010-07-09","M":10.6,"S":10.0,"T":11.0,"U":12.8},
    {"d":"2010-07-11","M":7.0,"S":6.5,"T":7.0,"U":8.2},
    {"d":"2010-07-13","M":2.6,"S":2.0,"T":2.3,"U":1.4},
    {"d":"2010-07-15","M":5.7,"S":1.4,"T":3.6,"U":2.0},
    {"d":"2010-07-18","M":5.1,"S":4.5,"T":4.5,"U":3.9},
    {"d":"2010-07-20","M":7.0,"S":6.5,"T":7.0,"U":7.0},
    {"d":"2010-07-22","M":8.5,"S":7.0,"T":7.0,"U":6.3},
    {"d":"2010-07-24","M":4.5,"S":3.5,"T":5.1,"U":2.6},
    {"d":"2010-07-26","M":4.2,"S":3.0,"T":2.3,"U":1.7},
    {"d":"2010-07-28","M":10.0,"S":7.6,"T":9.7,"U":9.4},
    {"d":"2010-07-29","M":9.0,"S":7.8,"T":8.8,"U":12.8},
    {"d":"2010-07-31","M":9.4,"S":6.3,"T":7.3,"U":8.5},
    {"d":"2010-08-02","M":10.0,"S":9.0,"T":11.0,"U":9.4},
    {"d":"2010-08-04","M":13.7,"S":10.0,"T":13.1,"U":13.7},
    {"d":"2010-08-06","M":11.5,"S":10.0,"T":11.3,"U":15.9},
    {"d":"2010-08-08","M":8.2,"S":7.5,"T":7.6,"U":7.0},
    {"d":"2010-08-10","M":7.0,"S":6.0,"T":5.7,"U":5.1},
    {"d":"2010-08-13","M":8.8,"S":8.0,"T":8.8,"U":7.6},
    {"d":"2010-08-14","M":13.7,"S":10.0,"T":13.1,"U":12.5},
    {"d":"2010-08-15","M":14.3,"S":10.5,"T":14.1,"U":16.2},
    {"d":"2010-08-17","M":11.0,"S":9.5,"T":10.0,"U":13.1},
    {"d":"2010-08-20","M":5.7,"S":4.5,"T":4.5,"U":4.5},
    {"d":"2010-08-22","M":5.4,"S":2.5,"T":1.7,"U":2.6},
    {"d":"2010-08-25","M":5.7,"S":4.0,"T":3.9,"U":3.3},
    {"d":"2010-08-28","M":5.1,"S":3.5,"T":3.3,"U":2.6},
    {"d":"2010-08-31","M":6.0,"S":4.5,"T":5.1,"U":4.2},
    {"d":"2010-09-04","M":5.4,"S":4.5,"T":4.5,"U":4.2},
    {"d":"2010-09-08","M":4.5,"S":4.0,"T":3.9,"U":3.6},
    {"d":"2010-09-10","M":5.7,"S":5.0,"T":5.1,"U":7.0},
    {"d":"2010-09-12","M":3.0,"S":2.3,"T":2.0,"U":2.6},
    {"d":"2010-09-15","M":5.1,"S":4.0,"T":3.9,"U":4.5},
    {"d":"2010-09-17","M":4.5,"S":3.5,"T":4.2,"U":7.3},
    {"d":"2010-09-19","M":1.4,"S":1.0,"T":1.4,"U":0.8,"E":6.4},
    {"d":"2010-09-21","M":1.4,"S":0.5,"T":-0.7,"U":0.5,"E":2.3},
    {"d":"2010-09-24","M":3.6,"S":2.8,"T":3.0,"U":2.6,"E":4.5},
    {"d":"2010-09-28","M":3.9,"S":3.0,"T":3.9,"U":2.0,"E":4.8},
    {"d":"2010-09-30","M":3.5,"S":2.6,"T":3.0,"U":1.7,"E":4.2},
    {"d":"2010-10-02","M":5.4,"S":4.0,"T":3.9,"U":3.9,"E":5.4},
    {"d":"2010-10-03","M":1.0,"S":-2.6,"T":-1.0,"U":0.8,"E":1.5},
    {"d":"2010-10-06","M":1.0,"S":0.2,"T":0.5,"U":-1.7,"E":1.7},
    {"d":"2010-10-08","M":1.7,"S":1.0,"T":1.4,"U":-0.1,"E":3.3},
    {"d":"2010-10-10","M":1.5,"S":0.5,"T":0.2,"U":1.7,"E":4.8},
    {"d":"2010-10-13","M":1.0,"S":0.0,"T":-0.4,"U":0.2,"E":1.7},
    {"d":"2010-10-16","M":0.5,"S":-0.5,"T":-0.4,"U":-1.7,"E":0.8},
    {"d":"2010-10-18","M":0.5,"S":-0.5,"T":-1.0,"U":-1.7,"E":0.8},
    {"d":"2010-10-21","M":-0.5,"S":-1.0,"T":-1.9,"U":-2.6,"E":-0.4},
    {"d":"2010-10-22","M":-1.0,"S":-2.0,"T":-2.9,"U":-4.7,"E":-0.5},
    {"d":"2010-10-25","M":4.0,"S":3.6,"T":2.3,"U":-0.4,"E":3.3},
    {"d":"2010-10-28","M":-3.8,"S":-4.5,"T":-2.6,"U":-3.5,"E":-3.0},
    {"d":"2010-10-30","M":-1.7,"S":-2.5,"T":-2.6,"U":-2.9,"E":-1.5},
    {"d":"2010-11-01","M":-4.1,"S":-5.0,"T":-7.5,"U":-4.7,"E":-4.1},
    {"d":"2010-11-02","M":-0.4,"S":-1.5,"T":-2.0,"U":-2.5,"E":-0.4},
    {"d":"2010-11-03","M":0.5,"S":-1.0,"T":-1.7,"U":-1.7,"E":0.8},
    {"d":"2010-11-06","M":-0.7,"S":-2.0,"T":-2.9,"U":-3.5,"E":-0.7},
    {"d":"2010-11-08","M":-2.6,"S":-4.0,"T":-6.0,"U":-5.4,"E":-2.6},
    {"d":"2010-11-11","M":-8.4,"S":-9.5,"T":-11.2,"U":-9.7,"E":-8.4},
    {"d":"2010-11-14","M":0.2,"S":-0.5,"T":-1.0,"U":-0.7,"E":0.2},
    {"d":"2010-11-15","M":-0.4,"S":-1.5,"T":-2.6,"U":-1.7,"E":-0.4},
    {"d":"2010-11-18","M":-13.1,"S":-15.0,"T":-17.7,"U":-15.2,"E":-13.6},
    {"d":"2010-11-20","M":-12.1,"S":-14.0,"T":-16.4,"U":-15.0,"E":-10.0},
    {"d":"2010-11-21","M":-15.2,"S":-17.0,"T":-20.8,"U":-18.3,"E":-10.0},
    {"d":"2010-11-23","M":-10.9,"S":-13.0,"T":-16.4,"U":-17.7,"E":-12.0},
    {"d":"2010-11-26","M":-1.7,"S":-3.5,"T":-4.1,"U":-6.0,"E":-2.3},
    {"d":"2010-11-28","M":-3.5,"S":-6.0,"T":-6.6,"U":-9.1,"E":-3.8},
    {"d":"2010-12-01","M":-3.0,"S":-6.5,"T":-5.7,"U":-7.2,"E":-4.1},
    {"d":"2010-12-04","M":-8.0,"S":-9.5,"T":-11.9,"U":-10.9,"E":-8.8},
    {"d":"2010-12-06","M":-9.5,"S":-11.0,"T":-12.8,"U":-12.1,"E":-10.3},
    {"d":"2010-12-07","M":-3.5,"S":-4.5,"T":-7.2,"U":-6.6,"E":-3.8},
    {"d":"2010-12-09","M":-7.5,"S":-8.5,"T":-11.5,"U":-7.2,"E":-7.2},
    {"d":"2010-12-12","M":-3.8,"S":-5.5,"T":-6.6,"U":-7.2,"E":-3.5},
    {"d":"2010-12-14","M":-5.0,"S":-6.0,"T":-6.6,"U":-6.6,"E":-4.7},
    {"d":"2010-12-17","M":-12.7,"S":-15.5,"T":-15.2,"U":-13.4,"E":-12.8},
    {"d":"2010-12-19","M":-14.0,"S":-16.0,"T":-12.7,"U":-13.4,"E":-14.6},
    {"d":"2010-12-21","M":-15.4,"S":-17.0,"T":-18.6,"U":-14.6,"E":-17.0},
    {"d":"2010-12-24","M":-4.1,"S":-1.0,"T":-5.4,"U":-5.4,"E":-7.2},
    {"d":"2010-12-26","M":-6.0,"S":-5.5,"T":-6.6,"U":-6.6,"E":-5.9},
    {"d":"2010-12-28","M":-8.5,"S":-9.0,"T":-7.2,"U":-7.2,"E":-10.0},
    {"d":"2010-12-30","M":-14.0,"S":-17.9,"T":-15.6,"U":-15.2,"E":-13.4},
    {"d":"2010-12-31","M":-7.8,"S":-14.0,"T":-14.6,"U":-13.0,"E":-13.0}
  ]
},
"spacing": 54,
"vconcat": [
  {
    "title": {"text": "2010 Average"},
    "width": 924, "height": 380,
    "data": {"name": "avg"},
    "transform": [
      {"fold": ["E", "M", "S", "T", "U"], "as": ["k", "v"]},
      {"lookup": "k", "from": {"data": {"name": "st"}, "key": "k", "fields": ["name"]}}
    ],
    "mark": {"type": "line", "strokeWidth": 1.5},
    "encoding": {
      "x": {"field": "d", "type": "temporal",
        "scale": {"type": "utc", "domain": [{"year": 2010, "month": 1, "date": 1, "utc": true}, {"year": 2011, "month": 1, "date": 1, "utc": true}]},
        "axis": {"title": null,
          "values": [{"year":2010,"month":1,"date":1,"utc":true},{"year":2010,"month":2,"date":1,"utc":true},{"year":2010,"month":3,"date":1,"utc":true},{"year":2010,"month":4,"date":1,"utc":true},{"year":2010,"month":5,"date":1,"utc":true},{"year":2010,"month":6,"date":1,"utc":true},{"year":2010,"month":7,"date":1,"utc":true},{"year":2010,"month":8,"date":1,"utc":true},{"year":2010,"month":9,"date":1,"utc":true},{"year":2010,"month":10,"date":1,"utc":true},{"year":2010,"month":11,"date":1,"utc":true},{"year":2010,"month":12,"date":1,"utc":true}]}},
      "y": {"field": "v", "type": "quantitative", "scale": {"domain": [-40, 30], "nice": false},
        "axis": {"title": "Temperature (°C)", "values": [-40, -30, -20, -10, 0, 10, 20, 30]}},
      "color": {"field": "name", "type": "nominal",
        "scale": {"domain": ["Eskay Creek Mine (770 masl)", "Mitchell Deposit (830 masl)", "Sulphurets Creek (880 masl)", "Teigen Creek (1,085 masl)", "Unuk-Teigen (1,279 masl)"],
                  "range": ["#d7191c", "#ffa31a", "#a1d76a", "#16698a", "#cc7ab8"]}}
    }
  },
  {
    "spacing": 44,
    "vconcat": [
      {
        "title": {"text": "2010 Maximum"},
        "width": 924, "height": 380,
        "data": {"name": "max"},
        "transform": [
          {"fold": ["E", "M", "S", "T", "U"], "as": ["k", "v"]},
          {"lookup": "k", "from": {"data": {"name": "st"}, "key": "k", "fields": ["name"]}}
        ],
        "mark": {"type": "line", "strokeWidth": 1.5},
        "encoding": {
          "x": {"field": "d", "type": "temporal",
            "scale": {"type": "utc", "domain": [{"year": 2010, "month": 1, "date": 1, "utc": true}, {"year": 2011, "month": 1, "date": 1, "utc": true}]},
            "axis": {"title": null,
              "values": [{"year":2010,"month":1,"date":1,"utc":true},{"year":2010,"month":2,"date":1,"utc":true},{"year":2010,"month":3,"date":1,"utc":true},{"year":2010,"month":4,"date":1,"utc":true},{"year":2010,"month":5,"date":1,"utc":true},{"year":2010,"month":6,"date":1,"utc":true},{"year":2010,"month":7,"date":1,"utc":true},{"year":2010,"month":8,"date":1,"utc":true},{"year":2010,"month":9,"date":1,"utc":true},{"year":2010,"month":10,"date":1,"utc":true},{"year":2010,"month":11,"date":1,"utc":true},{"year":2010,"month":12,"date":1,"utc":true}]}},
          "y": {"field": "v", "type": "quantitative", "scale": {"domain": [-40, 30], "nice": false},
            "axis": {"title": "Temperature (°C)", "values": [-40, -30, -20, -10, 0, 10, 20, 30]}},
          "color": {"field": "name", "type": "nominal",
            "scale": {"domain": ["Eskay Creek Mine (770 masl)", "Mitchell Deposit (830 masl)", "Sulphurets Creek (880 masl)", "Teigen Creek (1,085 masl)", "Unuk-Teigen (1,279 masl)"],
                      "range": ["#d7191c", "#ffa31a", "#a1d76a", "#16698a", "#cc7ab8"]}}
        }
      },
      {
        "title": {"text": "2010\u00a0 Minimum"},
        "width": 924, "height": 380,
        "data": {"name": "min"},
        "transform": [
          {"fold": ["E", "M", "S", "T", "U"], "as": ["k", "v"]},
          {"lookup": "k", "from": {"data": {"name": "st"}, "key": "k", "fields": ["name"]}}
        ],
        "mark": {"type": "line", "strokeWidth": 1.5},
        "encoding": {
          "x": {"field": "d", "type": "temporal",
            "scale": {"type": "utc", "domain": [{"year": 2010, "month": 1, "date": 1, "utc": true}, {"year": 2011, "month": 1, "date": 1, "utc": true}]},
            "axis": {"title": null,
              "values": [{"year":2010,"month":1,"date":1,"utc":true},{"year":2010,"month":2,"date":1,"utc":true},{"year":2010,"month":3,"date":1,"utc":true},{"year":2010,"month":4,"date":1,"utc":true},{"year":2010,"month":5,"date":1,"utc":true},{"year":2010,"month":6,"date":1,"utc":true},{"year":2010,"month":7,"date":1,"utc":true},{"year":2010,"month":8,"date":1,"utc":true},{"year":2010,"month":9,"date":1,"utc":true},{"year":2010,"month":10,"date":1,"utc":true},{"year":2010,"month":11,"date":1,"utc":true},{"year":2010,"month":12,"date":1,"utc":true}]}},
          "y": {"field": "v", "type": "quantitative", "scale": {"domain": [-40, 30], "nice": false},
            "axis": {"title": "Temperature (°C)", "values": [-40, -30, -20, -10, 0, 10, 20, 30]}},
          "color": {"field": "name", "type": "nominal",
            "scale": {"domain": ["Eskay Creek Mine (770 masl)", "Mitchell Deposit (830 masl)", "Sulphurets Creek (880 masl)", "Teigen Creek (1,085 masl)", "Unuk-Teigen (1,279 masl)"],
                      "range": ["#d7191c", "#ffa31a", "#a1d76a", "#16698a", "#cc7ab8"]}}
        }
      }
    ]
  }
]
}
